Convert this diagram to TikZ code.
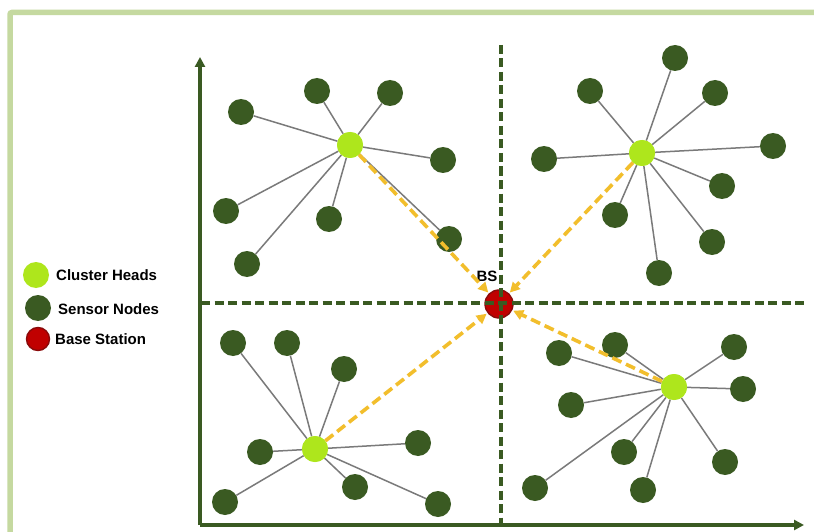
\documentclass[tikz,border=0pt]{standalone}
\usepackage{fontspec}
\setmainfont{Liberation Sans}
\usetikzlibrary{arrows.meta}
\definecolor{framegreen}{HTML}{C5D9A0}
\definecolor{darkgreen}{HTML}{3A5A22}
\definecolor{headgreen}{HTML}{AEE61C}
\definecolor{bsred}{HTML}{C00000}
\definecolor{bsedge}{HTML}{8A0A0A}
\definecolor{linkgray}{HTML}{7A7A7A}
\definecolor{uplinkgold}{HTML}{F2BE2C}
\begin{document}
\begin{tikzpicture}[x=1pt,y=-1pt,
  sensor/.style={circle,fill=darkgreen,draw=none,minimum size=26pt,inner sep=0pt},
  head/.style={circle,fill=headgreen,draw=none,minimum size=26pt,inner sep=0pt},
  basestation/.style={circle,fill=bsred,draw=bsedge,line width=1.4pt,minimum size=28pt,inner sep=0pt},
  link/.style={draw=linkgray,line width=1.5pt},
  uplink/.style={draw=uplinkgold,line width=3.6pt,dash pattern=on 10pt off 5pt,
    -{Triangle[length=10pt,width=10pt]}, shorten >=1pt},
  axisline/.style={draw=darkgreen,line width=3.6pt,-{Triangle[length=10pt,width=10pt]}},
  quadline/.style={draw=darkgreen,line width=3.4pt,dash pattern=on 9pt off 4.5pt},
  labeltext/.style={font=\fontsize{15pt}{18pt}\selectfont\bfseries,inner sep=0pt}]

% canvas and outer frame
\useasboundingbox (0,0) rectangle (814,532);
\clip (0,0) rectangle (814,532);
\fill[white] (0,0) rectangle (814,532);
\draw[framegreen,line width=5.5pt,rounded corners=2pt] (10,12.5) rectangle (900,620);

% axes
\coordinate (origin) at (200,525);
\coordinate (ytop) at (200,57);
\coordinate (xend) at (804,525);
\draw[axisline] (origin) -- (ytop);
\draw[axisline] (origin) -- (xend);

% base station with the quadrant divider lines crossing it
\node[basestation] (bs) at (499,304) {};
\node[labeltext] (bslabel) at (487,276) {BS};
\coordinate (vtop) at (501,45);
\coordinate (vbot) at (501,524);
\coordinate (hleft) at (201,303);
\coordinate (hright) at (806,303);
\draw[quadline] (vtop) -- (vbot);
\draw[quadline] (hleft) -- (hright);

% cluster heads
\node[head] (ch1) at (350,145) {};
\node[head] (ch2) at (642,153) {};
\node[head] (ch3) at (315,449) {};
\node[head] (ch4) at (674,387) {};

% cluster 1 (upper left)
\foreach \n/\x/\y in {a/241/112, b/317/91, c/390/93, d/443/160,
                      e/226/211, f/329/219, g/449/239, h/247/264} {
  \node[sensor] (s1\n) at (\x,\y) {};
  \draw[link] (s1\n) -- (ch1);
}

% cluster 2 (upper right)
\foreach \n/\x/\y in {a/675/58, b/590/91, c/715/93, d/773/146, e/544/159,
                      f/722/186, g/615/215, h/712/242, i/659/273} {
  \node[sensor] (s2\n) at (\x,\y) {};
  \draw[link] (s2\n) -- (ch2);
}

% cluster 3 (lower left)
\foreach \n/\x/\y in {a/233/343, b/287/343, c/344/369, d/260/452,
                      e/418/443, f/355/487, g/225/502, h/438/504} {
  \node[sensor] (s3\n) at (\x,\y) {};
  \draw[link] (s3\n) -- (ch3);
}

% cluster 4 (lower right)
\foreach \n/\x/\y in {a/559/353, b/615/345, c/734/347, d/743/389, e/571/405,
                      f/624/452, g/725/462, h/535/488, i/643/490} {
  \node[sensor] (s4\n) at (\x,\y) {};
  \draw[link] (s4\n) -- (ch4);
}

% cluster heads redrawn above their links
\node[head] at (ch1) {};
\node[head] at (ch2) {};
\node[head] at (ch3) {};
\node[head] at (ch4) {};

% uplinks from cluster heads to the base station
\draw[uplink] (ch1) -- (bs);
\draw[uplink] (ch2) -- (bs);
\draw[uplink] (ch3) -- (bs);
\draw[uplink] (ch4) -- (bs);

% legend
\node[head] (lgch) at (36,275) {};
\node[sensor] (lgsn) at (38,308) {};
\node[basestation,minimum size=23pt] (lgbs) at (38,339) {};
\node[labeltext,anchor=west] (lgchtext) at (56,275) {Cluster Heads};
\node[labeltext,anchor=west] (lgsntext) at (58,309) {Sensor Nodes};
\node[labeltext,anchor=west] (lgbstext) at (55,339) {Base Station};
\end{tikzpicture}
\end{document}
